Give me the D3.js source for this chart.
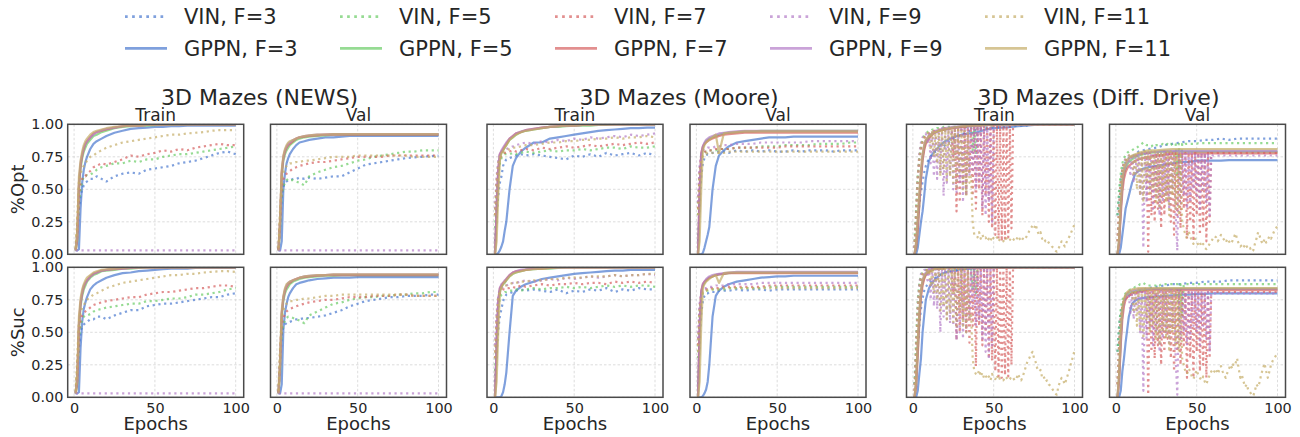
<!DOCTYPE html>
<html><head><meta charset="utf-8">
<script src="https://cdn.jsdelivr.net/npm/d3@7"></script>
<style>
body{margin:0;background:#fff}
text{font-family:"DejaVu Sans",sans-serif;fill:#262626}
</style>
</head><body>
<svg id="chart" width="1300" height="437"></svg>
<script>
// ---------------- categories / ticks ----------------
const epochsSparse = [1,2,3,4,5,6,7,8, 10,12,14,17,20,25,30, 35,40,45,50,55,60,65,70,75,80,85,90,95,100];
const epochsFull = d3.range(1, 101);
const fValues = [3,5,7,9,11];
const modelNames = ["VIN","GPPN"];
const groupTitles = ["3D Mazes (NEWS)","3D Mazes (Moore)","3D Mazes (Diff. Drive)"];
const splitTitles = ["Train","Val"];
const metricLabels = ["%Opt","%Suc"];
const xLabel = "Epochs";
const yTickValues = [0,0.25,0.5,0.75,1];
const xTickValues = [0,50,100];

// ---------------- NEWS ----------------
const newsTrainOptVIN = [
 [0.03,0.15,0.35,0.45,0.5,0.53,0.55,0.56, 0.58,0.58,0.6,0.58,0.56,0.6,0.62, 0.63,0.62,0.65,0.66,0.67,0.68,0.7,0.71,0.72,0.74,0.76,0.78,0.79,0.77],
 [0.04,0.2,0.4,0.5,0.56,0.6,0.6,0.61, 0.61,0.63,0.65,0.67,0.68,0.7,0.7, 0.72,0.71,0.73,0.73,0.75,0.76,0.77,0.77,0.78,0.79,0.8,0.81,0.82,0.83],
 [0.04,0.2,0.45,0.55,0.58,0.6,0.6,0.62, 0.64,0.67,0.68,0.7,0.69,0.71,0.73, 0.76,0.75,0.77,0.78,0.8,0.79,0.81,0.8,0.82,0.83,0.84,0.85,0.84,0.84],
 [0.03,0.03,0.03,0.03,0.03,0.03,0.03,0.03, 0.03,0.03,0.03,0.03,0.03,0.03,0.03, 0.03,0.03,0.03,0.03,0.03,0.03,0.03,0.03,0.03,0.03,0.03,0.03,0.03,0.03],
 [0.05,0.3,0.55,0.62,0.66,0.68,0.7,0.72, 0.75,0.76,0.78,0.8,0.82,0.84,0.86, 0.87,0.88,0.89,0.9,0.91,0.92,0.92,0.93,0.935,0.94,0.95,0.955,0.955,0.955]
];
const newsTrainOptGPPN = [
 [0.03,0.03,0.04,0.35,0.55,0.65,0.71,0.75, 0.81,0.85,0.87,0.89,0.91,0.935,0.95, 0.965,0.97,0.975,0.98,0.98,0.985,0.985,0.99,0.99,0.99,0.99,0.99,0.99,0.99],
 [0.03,0.1,0.5,0.66,0.74,0.79,0.82,0.85, 0.88,0.91,0.92,0.94,0.95,0.97,0.98, 0.985,0.99,0.99,0.993,0.995,0.995,0.997,0.997,1,1,1,1,1,1],
 [0.03,0.12,0.52,0.68,0.76,0.81,0.85,0.87, 0.9,0.93,0.94,0.95,0.96,0.975,0.985, 0.99,0.99,0.995,0.995,0.997,1,1,1,1,1,1,1,1,1],
 [0.03,0.15,0.55,0.7,0.77,0.82,0.85,0.87, 0.9,0.92,0.94,0.955,0.965,0.975,0.985, 0.99,0.99,0.995,0.995,0.997,1,1,1,1,1,1,1,1,1],
 [0.03,0.2,0.6,0.72,0.79,0.84,0.87,0.89, 0.92,0.94,0.95,0.96,0.97,0.98,0.985, 0.99,0.99,0.995,0.995,0.997,1,1,1,1,1,1,1,1,1]
];
const newsTrainSucVIN = [
 [0.03,0.15,0.38,0.5,0.55,0.56,0.57,0.58, 0.6,0.6,0.62,0.62,0.6,0.63,0.65, 0.67,0.67,0.7,0.71,0.72,0.72,0.73,0.74,0.75,0.76,0.77,0.77,0.79,0.8],
 [0.04,0.22,0.45,0.55,0.6,0.62,0.63,0.63, 0.64,0.66,0.67,0.68,0.69,0.7,0.71, 0.72,0.72,0.74,0.74,0.75,0.76,0.76,0.77,0.79,0.79,0.8,0.81,0.83,0.84],
 [0.04,0.22,0.5,0.6,0.63,0.65,0.66,0.67, 0.69,0.71,0.72,0.73,0.74,0.75,0.76, 0.77,0.77,0.79,0.8,0.81,0.81,0.82,0.83,0.84,0.84,0.85,0.86,0.86,0.85],
 [0.03,0.03,0.03,0.03,0.03,0.03,0.03,0.03, 0.03,0.03,0.03,0.03,0.03,0.03,0.03, 0.03,0.03,0.03,0.03,0.03,0.03,0.03,0.03,0.03,0.03,0.03,0.03,0.03,0.03],
 [0.05,0.32,0.58,0.65,0.69,0.71,0.73,0.75, 0.77,0.79,0.8,0.82,0.84,0.86,0.88, 0.89,0.9,0.91,0.92,0.93,0.94,0.94,0.95,0.95,0.96,0.965,0.97,0.97,0.965]
];
const newsTrainSucGPPN = [
 [0.03,0.03,0.04,0.38,0.58,0.68,0.73,0.77, 0.83,0.86,0.88,0.9,0.92,0.94,0.955, 0.96,0.97,0.975,0.98,0.985,0.99,0.99,0.99,0.995,0.995,0.995,0.995,0.995,0.995],
 [0.03,0.1,0.52,0.7,0.78,0.83,0.86,0.89, 0.92,0.94,0.95,0.97,0.975,0.98,0.99, 0.99,0.995,1,1,1,1,1,1,1,1,1,1,1,1],
 [0.03,0.12,0.55,0.72,0.8,0.85,0.88,0.9, 0.93,0.95,0.96,0.975,0.98,0.985,0.99, 0.995,1,1,1,1,1,1,1,1,1,1,1,1,1],
 [0.03,0.15,0.57,0.73,0.81,0.86,0.88,0.9, 0.93,0.95,0.96,0.975,0.98,0.99,0.99, 0.995,1,1,1,1,1,1,1,1,1,1,1,1,1],
 [0.03,0.2,0.62,0.76,0.83,0.87,0.9,0.92, 0.94,0.96,0.97,0.98,0.985,0.99,0.995, 1,1,1,1,1,1,1,1,1,1,1,1,1,1]
];
const newsValOptVIN = [
 [0.03,0.2,0.45,0.52,0.55,0.56,0.57,0.57, 0.58,0.58,0.59,0.58,0.59,0.58,0.59, 0.6,0.6,0.63,0.66,0.69,0.7,0.71,0.72,0.73,0.74,0.745,0.75,0.755,0.76],
 [0.04,0.25,0.45,0.52,0.55,0.57,0.58,0.57, 0.57,0.56,0.55,0.53,0.6,0.63,0.65, 0.67,0.68,0.7,0.72,0.73,0.75,0.76,0.77,0.78,0.79,0.79,0.8,0.8,0.8],
 [0.04,0.3,0.52,0.58,0.6,0.62,0.63,0.64, 0.66,0.67,0.68,0.69,0.7,0.71,0.71, 0.72,0.73,0.74,0.75,0.75,0.75,0.75,0.76,0.76,0.76,0.76,0.76,0.76,0.76],
 [0.03,0.03,0.03,0.03,0.03,0.03,0.03,0.03, 0.03,0.03,0.03,0.03,0.03,0.03,0.03, 0.03,0.03,0.03,0.03,0.03,0.03,0.03,0.03,0.03,0.03,0.03,0.03,0.03,0.03],
 [0.05,0.35,0.58,0.63,0.66,0.68,0.69,0.7, 0.7,0.71,0.71,0.72,0.72,0.73,0.74, 0.75,0.75,0.75,0.76,0.76,0.76,0.76,0.76,0.76,0.76,0.75,0.75,0.75,0.75]
];
const newsValOptGPPN = [
 [0.03,0.03,0.1,0.5,0.62,0.7,0.74,0.77, 0.81,0.84,0.86,0.87,0.88,0.89,0.9, 0.9,0.905,0.91,0.91,0.91,0.91,0.91,0.91,0.91,0.91,0.91,0.91,0.91,0.91],
 [0.03,0.2,0.6,0.72,0.77,0.8,0.82,0.84, 0.86,0.88,0.89,0.9,0.905,0.91,0.915, 0.92,0.92,0.92,0.92,0.92,0.92,0.92,0.92,0.92,0.92,0.92,0.92,0.92,0.92],
 [0.03,0.25,0.62,0.74,0.79,0.82,0.84,0.85, 0.87,0.89,0.9,0.905,0.91,0.915,0.92, 0.92,0.92,0.92,0.92,0.92,0.92,0.92,0.92,0.92,0.92,0.92,0.92,0.92,0.92],
 [0.03,0.25,0.63,0.75,0.8,0.83,0.85,0.86, 0.88,0.89,0.9,0.91,0.915,0.92,0.92, 0.925,0.925,0.925,0.925,0.925,0.925,0.925,0.925,0.925,0.925,0.925,0.925,0.925,0.925],
 [0.03,0.3,0.65,0.76,0.81,0.84,0.86,0.87, 0.88,0.89,0.9,0.91,0.915,0.92,0.92, 0.925,0.925,0.925,0.925,0.925,0.925,0.925,0.925,0.925,0.925,0.925,0.925,0.925,0.925]
];
const newsValSucVIN = [
 [0.03,0.25,0.48,0.54,0.56,0.57,0.58,0.58, 0.59,0.6,0.6,0.61,0.61,0.62,0.63, 0.65,0.67,0.7,0.72,0.74,0.75,0.76,0.77,0.77,0.78,0.78,0.78,0.79,0.79],
 [0.04,0.3,0.5,0.56,0.59,0.61,0.62,0.62, 0.61,0.6,0.59,0.57,0.63,0.66,0.69, 0.72,0.73,0.75,0.76,0.77,0.77,0.78,0.78,0.79,0.79,0.8,0.8,0.81,0.81],
 [0.04,0.35,0.56,0.61,0.64,0.66,0.67,0.68, 0.69,0.7,0.71,0.72,0.73,0.74,0.75, 0.75,0.76,0.77,0.77,0.77,0.78,0.78,0.78,0.79,0.79,0.78,0.78,0.78,0.78],
 [0.03,0.03,0.03,0.03,0.03,0.03,0.03,0.03, 0.03,0.03,0.03,0.03,0.03,0.03,0.03, 0.03,0.03,0.03,0.03,0.03,0.03,0.03,0.03,0.03,0.03,0.03,0.03,0.03,0.03],
 [0.05,0.4,0.62,0.67,0.7,0.72,0.73,0.74, 0.74,0.75,0.75,0.76,0.76,0.77,0.78, 0.78,0.79,0.79,0.79,0.79,0.79,0.79,0.79,0.79,0.79,0.78,0.78,0.78,0.78]
];
const newsValSucGPPN = [
 [0.03,0.03,0.1,0.52,0.65,0.72,0.77,0.8, 0.84,0.87,0.88,0.89,0.9,0.91,0.915, 0.92,0.92,0.92,0.925,0.925,0.925,0.925,0.925,0.925,0.925,0.925,0.925,0.925,0.925],
 [0.03,0.2,0.62,0.74,0.8,0.83,0.85,0.87, 0.89,0.9,0.91,0.92,0.925,0.93,0.935, 0.935,0.94,0.94,0.94,0.94,0.94,0.94,0.94,0.94,0.94,0.94,0.94,0.94,0.94],
 [0.03,0.25,0.64,0.76,0.82,0.85,0.87,0.88, 0.9,0.91,0.92,0.925,0.93,0.935,0.94, 0.94,0.94,0.94,0.94,0.94,0.94,0.94,0.94,0.94,0.94,0.94,0.94,0.94,0.94],
 [0.03,0.25,0.65,0.77,0.83,0.86,0.88,0.89, 0.9,0.91,0.92,0.93,0.935,0.94,0.94, 0.945,0.945,0.945,0.945,0.945,0.945,0.945,0.945,0.945,0.945,0.945,0.945,0.945,0.945],
 [0.03,0.3,0.67,0.78,0.84,0.87,0.88,0.89, 0.9,0.91,0.92,0.93,0.935,0.94,0.94, 0.945,0.945,0.945,0.945,0.945,0.945,0.945,0.945,0.945,0.945,0.945,0.945,0.945,0.945]
];

// ---------------- Moore ----------------
const mooreTrainOptVIN = [
 [0.1,0.3,0.45,0.55,0.6,0.68,0.71,0.73, 0.74,0.75,0.76,0.77,0.76,0.77,0.76, 0.75,0.74,0.73,0.76,0.75,0.77,0.75,0.78,0.76,0.77,0.78,0.76,0.78,0.76],
 [0.2,0.45,0.6,0.7,0.74,0.76,0.77,0.77, 0.77,0.78,0.77,0.78,0.79,0.78,0.79, 0.8,0.79,0.8,0.8,0.81,0.8,0.81,0.82,0.82,0.81,0.83,0.82,0.82,0.83],
 [0.3,0.55,0.68,0.74,0.76,0.77,0.78,0.78, 0.79,0.8,0.79,0.8,0.81,0.8,0.82, 0.81,0.82,0.83,0.82,0.83,0.84,0.83,0.84,0.85,0.84,0.85,0.86,0.85,0.86],
 [0.35,0.6,0.72,0.77,0.79,0.8,0.8,0.81, 0.82,0.83,0.84,0.85,0.86,0.85,0.87, 0.86,0.88,0.87,0.89,0.88,0.9,0.89,0.9,0.91,0.9,0.92,0.91,0.92,0.93],
 [0.3,0.55,0.7,0.75,0.77,0.78,0.79,0.8, 0.81,0.82,0.82,0.83,0.84,0.84,0.85, 0.86,0.86,0.87,0.87,0.88,0.88,0.89,0.89,0.9,0.89,0.9,0.9,0.91,0.9]
];
const mooreTrainOptGPPN = [
 [0,0,0.01,0.03,0.06,0.1,0.18,0.25, 0.5,0.68,0.74,0.79,0.82,0.86,0.86, 0.89,0.9,0.91,0.92,0.93,0.94,0.95,0.955,0.96,0.965,0.97,0.97,0.975,0.975],
 [0,0.3,0.6,0.75,0.78,0.8,0.82,0.84, 0.88,0.9,0.92,0.94,0.95,0.96,0.97, 0.98,0.98,0.985,0.99,0.99,0.99,0.995,0.995,1,1,1,1,1,1],
 [0,0.35,0.65,0.77,0.79,0.81,0.83,0.85, 0.89,0.91,0.93,0.94,0.955,0.965,0.975, 0.98,0.985,0.99,0.99,0.995,0.995,1,1,1,1,1,1,1,1],
 [0,0.35,0.66,0.77,0.8,0.82,0.84,0.86, 0.89,0.91,0.93,0.945,0.955,0.965,0.975, 0.98,0.985,0.99,0.99,0.995,0.995,1,1,1,1,1,1,1,1],
 [0,0.1,0.45,0.72,0.78,0.8,0.82,0.84, 0.88,0.9,0.92,0.94,0.95,0.96,0.97, 0.98,0.985,0.99,0.99,0.995,0.995,1,1,1,1,1,1,1,1]
];
const mooreTrainSucVIN = [
 [0.12,0.35,0.52,0.62,0.68,0.74,0.77,0.79, 0.8,0.81,0.82,0.83,0.82,0.83,0.82, 0.81,0.83,0.8,0.82,0.81,0.83,0.82,0.84,0.81,0.83,0.82,0.84,0.83,0.83],
 [0.2,0.5,0.68,0.76,0.79,0.8,0.81,0.81, 0.82,0.82,0.83,0.82,0.83,0.84,0.83, 0.84,0.84,0.85,0.84,0.85,0.84,0.85,0.86,0.85,0.86,0.85,0.86,0.86,0.85],
 [0.3,0.6,0.74,0.8,0.82,0.83,0.83,0.84, 0.84,0.85,0.84,0.86,0.85,0.86,0.87, 0.86,0.87,0.87,0.88,0.87,0.88,0.88,0.87,0.89,0.88,0.89,0.88,0.89,0.88],
 [0.4,0.65,0.78,0.83,0.84,0.85,0.85,0.86, 0.87,0.88,0.88,0.89,0.9,0.89,0.9, 0.91,0.9,0.92,0.91,0.92,0.93,0.92,0.93,0.94,0.93,0.94,0.94,0.95,0.94],
 [0.3,0.6,0.77,0.82,0.84,0.85,0.86,0.86, 0.87,0.88,0.88,0.89,0.89,0.9,0.9, 0.91,0.91,0.92,0.92,0.92,0.93,0.93,0.93,0.94,0.93,0.94,0.94,0.95,0.95]
];
const mooreTrainSucGPPN = [
 [0,0,0,0,0.01,0.04,0.1,0.19, 0.5,0.78,0.82,0.85,0.87,0.89,0.91, 0.92,0.93,0.94,0.95,0.955,0.96,0.965,0.97,0.975,0.975,0.98,0.98,0.98,0.98],
 [0,0.35,0.7,0.82,0.85,0.87,0.88,0.9, 0.93,0.95,0.96,0.97,0.98,0.985,0.99, 0.99,0.995,1,1,1,1,1,1,1,1,1,1,1,1],
 [0,0.4,0.74,0.84,0.86,0.88,0.89,0.91, 0.94,0.96,0.97,0.975,0.98,0.99,0.99, 0.995,1,1,1,1,1,1,1,1,1,1,1,1,1],
 [0,0.4,0.75,0.84,0.87,0.88,0.9,0.91, 0.94,0.96,0.97,0.98,0.985,0.99,0.995, 1,1,1,1,1,1,1,1,1,1,1,1,1,1],
 [0,0.12,0.5,0.8,0.85,0.87,0.89,0.9, 0.93,0.95,0.96,0.97,0.98,0.985,0.99, 0.995,1,1,1,1,1,1,1,1,1,1,1,1,1]
];
const mooreValOptVIN = [
 [0.1,0.4,0.6,0.7,0.74,0.76,0.77,0.77, 0.78,0.78,0.79,0.79,0.78,0.8,0.79, 0.8,0.79,0.8,0.79,0.79,0.8,0.79,0.8,0.8,0.8,0.79,0.8,0.8,0.8],
 [0.3,0.6,0.72,0.77,0.78,0.79,0.79,0.8, 0.8,0.8,0.81,0.81,0.81,0.82,0.82, 0.82,0.83,0.83,0.83,0.84,0.84,0.84,0.84,0.85,0.85,0.85,0.85,0.86,0.86],
 [0.35,0.65,0.75,0.78,0.79,0.79,0.8,0.8, 0.8,0.81,0.81,0.81,0.81,0.82,0.82, 0.82,0.82,0.82,0.82,0.83,0.83,0.83,0.83,0.83,0.83,0.83,0.83,0.83,0.83],
 [0.4,0.68,0.77,0.8,0.81,0.81,0.82,0.82, 0.82,0.83,0.83,0.84,0.84,0.85,0.85, 0.85,0.86,0.86,0.86,0.86,0.86,0.86,0.87,0.87,0.87,0.87,0.87,0.87,0.87],
 [0.3,0.6,0.72,0.76,0.77,0.77,0.78,0.78, 0.78,0.78,0.78,0.78,0.79,0.79,0.79, 0.79,0.79,0.79,0.79,0.79,0.79,0.79,0.79,0.79,0.79,0.79,0.79,0.79,0.79]
];
const mooreValOptGPPN = [
 [0,0,0,0.01,0.05,0.1,0.15,0.21, 0.5,0.68,0.76,0.8,0.83,0.86,0.87, 0.88,0.89,0.9,0.9,0.9,0.905,0.905,0.905,0.905,0.905,0.905,0.905,0.905,0.905],
 [0,0.4,0.75,0.82,0.85,0.87,0.88,0.89, 0.9,0.91,0.92,0.93,0.935,0.94,0.945, 0.945,0.95,0.95,0.95,0.95,0.95,0.95,0.95,0.95,0.95,0.95,0.95,0.95,0.95],
 [0,0.5,0.78,0.83,0.85,0.86,0.87,0.88, 0.89,0.9,0.91,0.92,0.925,0.93,0.935, 0.935,0.935,0.935,0.935,0.935,0.935,0.935,0.935,0.935,0.935,0.935,0.935,0.935,0.935],
 [0,0.45,0.77,0.83,0.86,0.88,0.89,0.9, 0.91,0.92,0.93,0.935,0.94,0.945,0.95, 0.95,0.95,0.95,0.95,0.95,0.95,0.95,0.95,0.95,0.95,0.95,0.95,0.95,0.95],
 [0,0.1,0.5,0.8,0.84,0.86,0.87,0.88, 0.9,0.92,0.78,0.93,0.935,0.94,0.945, 0.945,0.945,0.945,0.945,0.945,0.945,0.945,0.945,0.945,0.945,0.945,0.945,0.945,0.945]
];
const mooreValSucVIN = [
 [0.1,0.45,0.65,0.74,0.78,0.8,0.8,0.81, 0.81,0.81,0.82,0.82,0.82,0.83,0.82, 0.83,0.83,0.82,0.83,0.83,0.83,0.83,0.83,0.83,0.83,0.83,0.83,0.83,0.83],
 [0.3,0.65,0.76,0.8,0.81,0.82,0.82,0.82, 0.83,0.83,0.83,0.83,0.84,0.84,0.84, 0.84,0.84,0.85,0.85,0.85,0.85,0.85,0.85,0.85,0.85,0.85,0.85,0.85,0.85],
 [0.4,0.7,0.79,0.82,0.83,0.83,0.83,0.84, 0.84,0.84,0.84,0.85,0.85,0.85,0.85, 0.85,0.85,0.86,0.86,0.86,0.86,0.86,0.86,0.86,0.86,0.86,0.86,0.86,0.86],
 [0.45,0.72,0.8,0.83,0.84,0.84,0.85,0.85, 0.85,0.86,0.86,0.86,0.87,0.87,0.87, 0.87,0.88,0.88,0.88,0.88,0.88,0.88,0.88,0.88,0.88,0.88,0.88,0.88,0.88],
 [0.35,0.66,0.77,0.81,0.82,0.82,0.83,0.83, 0.83,0.83,0.83,0.84,0.84,0.84,0.84, 0.84,0.84,0.84,0.84,0.84,0.84,0.84,0.84,0.84,0.84,0.84,0.84,0.84,0.84]
];
const mooreValSucGPPN = [
 [0,0,0,0.01,0.03,0.06,0.12,0.25, 0.62,0.78,0.82,0.85,0.87,0.89,0.9, 0.91,0.92,0.925,0.93,0.93,0.935,0.935,0.935,0.935,0.935,0.935,0.935,0.935,0.935],
 [0,0.45,0.8,0.86,0.88,0.9,0.91,0.92, 0.93,0.94,0.945,0.95,0.955,0.96,0.96, 0.96,0.96,0.96,0.96,0.96,0.96,0.96,0.96,0.96,0.96,0.96,0.96,0.96,0.96],
 [0,0.55,0.82,0.87,0.89,0.9,0.91,0.92, 0.93,0.94,0.945,0.95,0.955,0.955,0.955, 0.955,0.955,0.955,0.955,0.955,0.955,0.955,0.955,0.955,0.955,0.955,0.955,0.955,0.955],
 [0,0.5,0.81,0.87,0.89,0.91,0.92,0.93, 0.94,0.945,0.95,0.955,0.96,0.965,0.965, 0.965,0.965,0.965,0.965,0.965,0.965,0.965,0.965,0.965,0.965,0.965,0.965,0.965,0.965],
 [0,0.12,0.55,0.84,0.87,0.89,0.9,0.91, 0.93,0.94,0.88,0.955,0.96,0.96,0.96, 0.96,0.96,0.96,0.96,0.96,0.96,0.96,0.96,0.96,0.96,0.96,0.96,0.96,0.96]
];

// ---------------- Diff. Drive ----------------
const diffTrainOptVIN = [
 [0.05,0.15,0.28,0.38,0.48,0.56,0.63,0.68, 0.74,0.77,0.79,0.81,0.84,0.89,0.92, 0.95,0.96,0.97,0.975,0.98,0.98,0.99,0.99,1,1,1,1,1,1],
 [0.1,0.35,0.6,0.74,0.83,0.88,0.91,0.93,0.94,0.95,
  0.95,0.96,0.96,0.96,0.97,0.97,0.97,0.97,0.98,0.98,
  0.98,0.98,0.98,0.98,0.98,0.98,0.98,0.98,0.98,0.98,
  0.98,0.98,0.98,0.98,0.98,0.98,0.8,0.99,0.78,0.99,
  0.99,0.99,0.99,0.99,0.99,0.99,0.99,0.99,0.99,0.99,
  1,1,1,1,1,1,1,1,1,1, 1,1,1,1,1,1,1,1,1,1, 1,1,1,1,1,1,1,1,1,1,
  1,1,1,1,1,1,1,1,1,1, 1,1,1,1,1,1,1,1,1,1],
 [0.05,0.3,0.55,0.72,0.8,0.86,0.89,0.91,0.92,0.93,
  0.94,0.94,0.95,0.95,0.96,0.96,0.96,0.97,0.97,0.97,
  0.97,0.97,0.97,0.97,0.75,0.98,0.33,0.98,0.4,0.98,
  0.55,0.98,0.45,0.98,0.62,0.98,0.45,0.99,0.35,0.99,
  0.5,0.99,0.3,0.99,0.45,0.99,0.25,0.99,0.2,0.99,
  0.15,0.99,0.12,0.99,0.1,0.99,0.12,0.99,0.13,0.99,
  0.2,1,1,1,1,1,1,1,1,1, 1,1,1,1,1,1,1,1,1,1,
  1,1,1,1,1,1,1,1,1,1, 1,1,1,1,1,1,1,1,1,1],
 [0.05,0.3,0.6,0.78,0.86,0.9,0.92,0.93,0.85,0.94,
  0.7,0.95,0.6,0.96,0.58,0.96,0.62,0.97,0.45,0.97,
  0.55,0.97,0.62,0.98,0.5,0.98,0.48,0.98,0.55,0.98,
  0.4,0.98,0.45,0.98,0.6,0.99,0.65,0.99,0.5,0.99,
  0.55,0.99,0.35,0.99,0.3,0.99,0.4,0.99,0.25,0.99,
  1,1,1,1,1,1,1,1,1,1, 1,1,1,1,1,1,1,1,1,1, 1,1,1,1,1,1,1,1,1,1,
  1,1,1,1,1,1,1,1,1,1, 1,1,1,1,1,1,1,1,1,1],
 [0.05,0.3,0.6,0.75,0.83,0.88,0.9,0.92,0.93,0.94,
  0.8,0.95,0.75,0.95,0.7,0.96,0.6,0.96,0.65,0.96,
  0.55,0.96,0.6,0.96,0.55,0.96,0.5,0.96,0.62,0.95,
  0.5,0.95,0.45,0.94,0.55,0.6,0.25,0.15,0.14,0.13,
  0.17,0.12,0.15,0.12,0.13,0.1,0.12,0.1,0.14,0.12,
  0.11,0.13,0.1,0.12,0.11,0.1,0.13,0.12,0.1,0.11,
  0.13,0.12,0.1,0.11,0.14,0.12,0.1,0.12,0.11,0.13,
  0.15,0.18,0.2,0.22,0.2,0.23,0.18,0.15,0.17,0.12,
  0.13,0.1,0.11,0.09,0.08,0.06,0.05,0.03,0.02,0.04,
  0.07,0.1,0.08,0.06,0.09,0.12,0.14,0.17,0.2,0.23]
];
const diffTrainOptGPPN = [
 [0,0,0.05,0.15,0.25,0.33,0.45,0.58, 0.72,0.77,0.8,0.84,0.87,0.9,0.92, 0.93,0.94,0.96,0.97,0.975,0.978,0.985,0.99,0.995,1,1,1,1,1],
 [0,0.05,0.2,0.4,0.6,0.74,0.82,0.87, 0.9,0.93,0.94,0.955,0.96,0.975,0.98, 0.985,0.99,0.995,0.995,1,1,1,1,1,1,1,1,1,1],
 [0,0.05,0.18,0.38,0.57,0.72,0.8,0.85, 0.89,0.92,0.94,0.95,0.96,0.97,0.98, 0.985,0.99,0.995,0.995,1,1,1,1,1,1,1,1,1,1],
 [0,0.08,0.25,0.45,0.63,0.76,0.84,0.88, 0.91,0.93,0.95,0.96,0.97,0.98,0.985, 0.99,0.99,0.995,1,1,1,1,1,1,1,1,1,1,1],
 [0,0.1,0.28,0.48,0.65,0.77,0.84,0.88, 0.91,0.93,0.94,0.955,0.965,0.975,0.985, 0.99,0.99,0.995,1,1,1,1,1,1,1,1,1,1,1]
];
const diffTrainSucVIN = [
 [0.1,0.25,0.4,0.55,0.68,0.76,0.82,0.85, 0.88,0.9,0.92,0.94,0.96,0.97,0.98, 0.99,0.99,1,1,1,1,1,1,1,1,1,1,1,1],
 [0.1,0.45,0.75,0.88,0.94,0.96,0.97,0.98,0.98,0.99,
  0.99,0.99,0.99,0.99,0.99,0.99,0.99,0.99,0.99,0.99,
  0.99,0.99,0.99,0.99,0.99,0.99,0.99,0.99,0.99,0.99,
  0.99,0.99,0.99,0.99,0.99,0.99,0.82,1,0.8,1,
  1,1,1,1,1,1,1,1,1,1, 1,1,1,1,1,1,1,1,1,1, 1,1,1,1,1,1,1,1,1,1,
  1,1,1,1,1,1,1,1,1,1, 1,1,1,1,1,1,1,1,1,1, 1,1,1,1,1,1,1,1,1,1],
 [0.05,0.35,0.65,0.82,0.9,0.94,0.96,0.97,0.98,0.98,
  0.99,0.99,0.99,0.99,0.99,0.99,0.99,0.99,0.99,0.99,
  0.99,0.99,0.99,0.99,0.8,1,0.44,1,0.5,1,
  0.6,1,0.5,1,0.42,1,0.55,1,0.24,1,
  0.55,1,0.4,1,0.5,1,0.3,1,0.28,1,
  0.2,1,0.16,1,0.15,1,0.17,1,0.16,1,
  0.25,1,1,1,1,1,1,1,1,1, 1,1,1,1,1,1,1,1,1,1,
  1,1,1,1,1,1,1,1,1,1, 1,1,1,1,1,1,1,1,1,1],
 [0.05,0.35,0.7,0.88,0.95,0.97,0.98,0.98,0.9,0.99,
  0.75,0.99,0.7,0.99,0.68,0.99,0.5,0.99,0.62,0.99,
  0.6,0.99,0.57,0.99,0.55,0.99,0.44,0.99,0.5,1,
  0.45,1,0.5,1,0.6,1,0.7,1,0.55,1,
  0.6,1,0.45,1,0.35,1,0.29,1,0.4,1,
  1,1,1,1,1,1,1,1,1,1, 1,1,1,1,1,1,1,1,1,1, 1,1,1,1,1,1,1,1,1,1,
  1,1,1,1,1,1,1,1,1,1, 1,1,1,1,1,1,1,1,1,1],
 [0.05,0.35,0.68,0.85,0.92,0.95,0.96,0.97,0.98,0.98,
  0.85,0.99,0.8,0.99,0.75,0.99,0.65,0.99,0.7,0.99,
  0.6,0.99,0.65,0.99,0.58,0.99,0.55,0.99,0.67,0.99,
  0.55,0.99,0.5,0.98,0.6,0.65,0.3,0.2,0.18,0.17,
  0.21,0.16,0.19,0.15,0.17,0.14,0.16,0.13,0.18,0.15,
  0.14,0.17,0.13,0.15,0.14,0.13,0.16,0.15,0.13,0.14,
  0.16,0.15,0.13,0.14,0.18,0.15,0.13,0.16,0.2,0.24,
  0.28,0.3,0.33,0.35,0.3,0.27,0.22,0.2,0.21,0.15,
  0.16,0.12,0.13,0.1,0.09,0.07,0.05,0.03,0.02,0.08,
  0.12,0.15,0.13,0.1,0.14,0.18,0.22,0.27,0.31,0.36]
];
const diffTrainSucGPPN = [
 [0,0,0.05,0.18,0.3,0.5,0.63,0.75, 0.84,0.88,0.91,0.945,0.96,0.975,0.985, 0.99,0.995,1,1,1,1,1,1,1,1,1,1,1,1],
 [0,0.1,0.35,0.6,0.8,0.88,0.92,0.95, 0.97,0.98,0.99,0.99,1,1,1, 1,1,1,1,1,1,1,1,1,1,1,1,1,1],
 [0,0.08,0.32,0.58,0.77,0.86,0.91,0.94, 0.96,0.98,0.99,0.99,1,1,1, 1,1,1,1,1,1,1,1,1,1,1,1,1,1],
 [0,0.12,0.4,0.65,0.82,0.9,0.94,0.96, 0.98,0.99,0.99,1,1,1,1, 1,1,1,1,1,1,1,1,1,1,1,1,1,1],
 [0,0.14,0.42,0.66,0.82,0.9,0.93,0.95, 0.97,0.98,0.99,1,1,1,1, 1,1,1,1,1,1,1,1,1,1,1,1,1,1]
];
const diffValOptVIN = [
 [0.3,0.45,0.55,0.63,0.68,0.71,0.73,0.74, 0.75,0.77,0.79,0.8,0.81,0.82,0.84, 0.85,0.86,0.87,0.87,0.88,0.88,0.89,0.88,0.89,0.89,0.89,0.89,0.89,0.89],
 [0.3,0.5,0.62,0.7,0.74,0.76,0.78,0.79,0.8,0.8,
  0.81,0.82,0.82,0.83,0.84,0.85,0.86,0.85,0.84,0.84,
  0.83,0.83,0.84,0.83,0.84,0.84,0.84,0.84,0.85,0.84,
  0.84,0.85,0.84,0.85,0.84,0.85,0.85,0.6,0.85,0.58,
  0.85,0.84,0.85,0.85,0.85,0.85,0.85,0.85,0.85,0.85,
  0.855,0.855,0.855,0.855,0.855,0.855,0.855,0.855,0.855,0.855,
  0.855,0.855,0.855,0.855,0.855,0.855,0.855,0.855,0.855,0.855,
  0.855,0.855,0.855,0.855,0.855,0.855,0.855,0.855,0.855,0.855,
  0.855,0.855,0.855,0.855,0.855,0.855,0.855,0.855,0.855,0.855,
  0.855,0.855,0.855,0.855,0.855,0.855,0.855,0.855,0.855,0.855],
 [0.1,0.35,0.55,0.65,0.7,0.72,0.73,0.74,0.75,0.75,
  0.76,0.76,0.76,0.77,0.77,0.77,0.77,0.78,0.78,0.02,
  0.78,0.3,0.78,0.25,0.78,0.35,0.78,0.2,0.78,0.3,
  0.78,0.4,0.78,0.25,0.78,0.15,0.78,0.3,0.78,0.2,
  0.78,0.35,0.78,0.12,0.78,0.25,0.78,0.1,0.78,0.3,
  0.78,0.15,0.78,0.2,0.78,0.1,0.78,0.25,0.78,0.78,
  0.78,0.78,0.78,0.78,0.78,0.78,0.78,0.78,0.78,0.78,
  0.78,0.78,0.78,0.78,0.78,0.78,0.78,0.78,0.78,0.78,
  0.78,0.78,0.78,0.78,0.78,0.78,0.78,0.78,0.78,0.78,
  0.78,0.78,0.78,0.78,0.78,0.78,0.78,0.78,0.78,0.78],
 [0.1,0.35,0.55,0.66,0.71,0.74,0.75,0.76,0.6,0.77,
  0.55,0.77,0.62,0.78,0.45,0.78,0.05,0.78,0.4,0.78,
  0.5,0.78,0.35,0.78,0.45,0.79,0.3,0.79,0.4,0.79,
  0.45,0.79,0.35,0.79,0.5,0.79,0.3,0.03,0.79,0.4,
  0.79,0.45,0.78,0.35,0.78,0.4,0.78,0.5,0.78,0.45,
  0.78,0.35,0.78,0.5,0.78,0.4,0.78,0.3,0.77,0.76,
  0.76,0.76,0.76,0.76,0.76,0.76,0.76,0.76,0.76,0.76,
  0.76,0.76,0.76,0.76,0.76,0.76,0.76,0.76,0.76,0.76,
  0.76,0.76,0.76,0.76,0.76,0.76,0.76,0.76,0.76,0.76,
  0.76,0.76,0.76,0.76,0.76,0.76,0.76,0.76,0.76,0.76],
 [0.1,0.35,0.55,0.65,0.7,0.73,0.75,0.76,0.77,0.77,
  0.6,0.78,0.5,0.78,0.45,0.78,0.4,0.79,0.55,0.79,
  0.45,0.79,0.5,0.79,0.4,0.79,0.35,0.79,0.45,0.79,
  0.4,0.79,0.3,0.79,0.45,0.79,0.35,0.78,0.3,0.78,
  0.25,0.2,0.15,0.12,0.18,0.14,0.1,0.08,0.12,0.1,
  0.07,0.09,0.06,0.08,0.05,0.04,0.06,0.08,0.1,0.12,
  0.14,0.13,0.1,0.12,0.15,0.13,0.11,0.09,0.12,0.1,
  0.08,0.1,0.13,0.16,0.12,0.08,0.06,0.07,0.05,0.08,
  0.06,0.04,0.05,0.02,0.03,0.08,0.12,0.17,0.14,0.1,
  0.08,0.12,0.09,0.11,0.14,0.12,0.15,0.18,0.2,0.22]
];
const diffValOptGPPN = [
 [0,0,0.05,0.15,0.25,0.35,0.4,0.45, 0.55,0.62,0.64,0.66,0.67,0.68,0.69, 0.7,0.71,0.71,0.72,0.72,0.72,0.72,0.725,0.725,0.725,0.725,0.725,0.725,0.725],
 [0,0.1,0.35,0.53,0.62,0.66,0.69,0.71, 0.73,0.75,0.76,0.77,0.78,0.785,0.79, 0.79,0.79,0.79,0.79,0.79,0.79,0.79,0.79,0.79,0.79,0.79,0.79,0.79,0.79],
 [0,0.08,0.3,0.48,0.58,0.63,0.66,0.68, 0.7,0.72,0.73,0.74,0.75,0.76,0.765, 0.77,0.775,0.775,0.776,0.776,0.776,0.776,0.776,0.776,0.776,0.776,0.776,0.776,0.776],
 [0,0.1,0.35,0.55,0.64,0.68,0.71,0.73, 0.75,0.76,0.77,0.78,0.785,0.79,0.795, 0.795,0.795,0.795,0.795,0.795,0.795,0.795,0.795,0.795,0.795,0.795,0.795,0.795,0.795],
 [0,0.12,0.38,0.57,0.66,0.7,0.72,0.74, 0.76,0.77,0.78,0.79,0.8,0.8,0.805, 0.81,0.81,0.81,0.81,0.81,0.81,0.81,0.81,0.81,0.81,0.81,0.81,0.81,0.81]
];
const diffValSucVIN = [
 [0.35,0.55,0.65,0.7,0.74,0.76,0.77,0.78, 0.8,0.81,0.82,0.83,0.84,0.85,0.86, 0.87,0.87,0.88,0.88,0.89,0.89,0.89,0.9,0.9,0.9,0.9,0.9,0.9,0.9],
 [0.35,0.55,0.68,0.75,0.78,0.8,0.81,0.82,0.83,0.83,
  0.84,0.85,0.85,0.86,0.87,0.87,0.88,0.87,0.86,0.86,
  0.86,0.86,0.86,0.86,0.86,0.87,0.86,0.87,0.87,0.87,
  0.87,0.87,0.87,0.87,0.87,0.87,0.87,0.87,0.6,0.87,
  0.62,0.87,0.87,0.87,0.87,0.87,0.87,0.87,0.87,0.87,
  0.87,0.87,0.87,0.87,0.87,0.87,0.87,0.87,0.87,0.87,
  0.87,0.87,0.87,0.87,0.87,0.87,0.87,0.87,0.87,0.87,
  0.87,0.87,0.87,0.87,0.87,0.87,0.87,0.87,0.87,0.87,
  0.87,0.87,0.87,0.87,0.87,0.87,0.87,0.87,0.87,0.87,
  0.87,0.87,0.87,0.87,0.87,0.87,0.87,0.87,0.87,0.87],
 [0.1,0.4,0.6,0.7,0.74,0.76,0.77,0.78,0.79,0.79,
  0.8,0.8,0.8,0.8,0.81,0.81,0.81,0.81,0.81,0.02,
  0.81,0.35,0.81,0.3,0.81,0.4,0.81,0.25,0.81,0.35,
  0.81,0.45,0.81,0.3,0.81,0.2,0.81,0.35,0.81,0.25,
  0.81,0.4,0.81,0.15,0.81,0.3,0.81,0.15,0.81,0.35,
  0.81,0.2,0.81,0.25,0.81,0.15,0.81,0.3,0.81,0.81,
  0.81,0.81,0.81,0.81,0.81,0.81,0.81,0.81,0.81,0.81,
  0.81,0.81,0.81,0.81,0.81,0.81,0.81,0.81,0.81,0.81,
  0.81,0.81,0.81,0.81,0.81,0.81,0.81,0.81,0.81,0.81,
  0.81,0.81,0.81,0.81,0.81,0.81,0.81,0.81,0.81,0.81],
 [0.1,0.4,0.6,0.7,0.75,0.77,0.78,0.79,0.65,0.8,
  0.6,0.8,0.65,0.81,0.5,0.81,0.05,0.81,0.45,0.81,
  0.55,0.81,0.4,0.81,0.5,0.81,0.35,0.82,0.45,0.82,
  0.5,0.82,0.4,0.82,0.55,0.82,0.3,0.02,0.82,0.45,
  0.82,0.5,0.81,0.4,0.81,0.45,0.81,0.55,0.81,0.5,
  0.81,0.4,0.81,0.55,0.81,0.45,0.81,0.35,0.8,0.8,
  0.8,0.8,0.8,0.8,0.8,0.8,0.8,0.8,0.8,0.8,
  0.8,0.8,0.8,0.8,0.8,0.8,0.8,0.8,0.8,0.8,
  0.8,0.8,0.8,0.8,0.8,0.8,0.8,0.8,0.8,0.8,
  0.8,0.8,0.8,0.8,0.8,0.8,0.8,0.8,0.8,0.8],
 [0.1,0.4,0.6,0.7,0.75,0.78,0.8,0.81,0.82,0.82,
  0.65,0.83,0.55,0.83,0.5,0.83,0.45,0.83,0.6,0.83,
  0.5,0.83,0.55,0.83,0.45,0.83,0.4,0.83,0.5,0.83,
  0.45,0.83,0.35,0.83,0.5,0.83,0.4,0.82,0.35,0.82,
  0.3,0.25,0.2,0.18,0.22,0.2,0.16,0.14,0.18,0.21,
  0.17,0.15,0.13,0.16,0.12,0.1,0.14,0.17,0.2,0.18,
  0.2,0.22,0.18,0.21,0.24,0.2,0.17,0.15,0.19,0.22,
  0.25,0.22,0.27,0.26,0.3,0.22,0.15,0.17,0.12,0.08,
  0.1,0.05,0.04,0.02,0.01,0.05,0.1,0.08,0.12,0.18,
  0.22,0.26,0.2,0.15,0.2,0.25,0.28,0.3,0.32,0.34]
];
const diffValSucGPPN = [
 [0,0,0.05,0.2,0.3,0.42,0.52,0.62, 0.72,0.745,0.755,0.765,0.77,0.775,0.78, 0.785,0.79,0.79,0.795,0.795,0.8,0.8,0.8,0.8,0.8,0.8,0.8,0.8,0.8],
 [0,0.15,0.45,0.65,0.74,0.78,0.79,0.8, 0.81,0.815,0.82,0.825,0.83,0.835,0.835, 0.835,0.835,0.835,0.835,0.835,0.835,0.835,0.835,0.835,0.835,0.835,0.835,0.835,0.835],
 [0,0.12,0.4,0.6,0.7,0.75,0.77,0.78, 0.8,0.805,0.81,0.815,0.82,0.825,0.825, 0.825,0.825,0.825,0.825,0.825,0.825,0.825,0.825,0.825,0.825,0.825,0.825,0.825,0.825],
 [0,0.15,0.45,0.65,0.74,0.78,0.8,0.81, 0.82,0.825,0.83,0.835,0.835,0.835,0.835, 0.835,0.835,0.835,0.835,0.835,0.835,0.835,0.835,0.835,0.835,0.835,0.835,0.835,0.835],
 [0,0.18,0.5,0.68,0.76,0.79,0.81,0.82, 0.83,0.835,0.84,0.84,0.84,0.84,0.84, 0.84,0.84,0.84,0.84,0.84,0.84,0.84,0.84,0.84,0.84,0.84,0.84,0.84,0.84]
];

// panel table (row = metric, col = group*2 + split)
const panels = [
 {row:0,col:0,vin:newsTrainOptVIN,gppn:newsTrainOptGPPN},
 {row:0,col:1,vin:newsValOptVIN,gppn:newsValOptGPPN},
 {row:0,col:2,vin:mooreTrainOptVIN,gppn:mooreTrainOptGPPN},
 {row:0,col:3,vin:mooreValOptVIN,gppn:mooreValOptGPPN},
 {row:0,col:4,vin:diffTrainOptVIN,gppn:diffTrainOptGPPN},
 {row:0,col:5,vin:diffValOptVIN,gppn:diffValOptGPPN},
 {row:1,col:0,vin:newsTrainSucVIN,gppn:newsTrainSucGPPN},
 {row:1,col:1,vin:newsValSucVIN,gppn:newsValSucGPPN},
 {row:1,col:2,vin:mooreTrainSucVIN,gppn:mooreTrainSucGPPN},
 {row:1,col:3,vin:mooreValSucVIN,gppn:mooreValSucGPPN},
 {row:1,col:4,vin:diffTrainSucVIN,gppn:diffTrainSucGPPN},
 {row:1,col:5,vin:diffValSucVIN,gppn:diffValSucGPPN}
];

// ---------------- layout / style ----------------
const colLeft = [67.7, 270.5, 487, 690, 906.5, 1109.5];
const rowTop = [124.3, 267.3];
const pw = 176, ph = 130;
const palette = ["#4878CF","#6ACC65","#D65F5F","#B47CC7","#C4AD66"];
const lineOpacity = 0.7;
const lineWidth = 2.2;
const dotDash = "2.2,3.6";

const svg = d3.select("#chart");
svg.append("rect").attr("width",1300).attr("height",437).attr("fill","#fff");

const x = d3.scaleLinear().domain([-3.95, 104.95]).range([0, pw]);
const y = d3.scaleLinear().domain([0, 1]).range([ph, 0]);

panels.forEach((p, pi) => {
  const g = svg.append("g").attr("transform", `translate(${colLeft[p.col]},${rowTop[p.row]})`);
  const clipId = "clip" + pi;
  g.append("clipPath").attr("id", clipId).append("rect").attr("width", pw).attr("height", ph);

  // grid
  g.selectAll(".gx").data(xTickValues).enter().append("line")
    .attr("x1", d => x(d)).attr("x2", d => x(d)).attr("y1", 0).attr("y2", ph)
    .attr("stroke", "#d4d4d4").attr("stroke-width", 0.8).attr("stroke-dasharray", "2.5,2");
  g.selectAll(".gy").data(yTickValues).enter().append("line")
    .attr("x1", 0).attr("x2", pw).attr("y1", d => y(d)).attr("y2", d => y(d))
    .attr("stroke", "#d4d4d4").attr("stroke-width", 0.8).attr("stroke-dasharray", "2.5,2");

  const lines = g.append("g").attr("clip-path", `url(#${clipId})`);
  fValues.forEach((f, fi) => {
    [p.vin[fi], p.gppn[fi]].forEach((vals, mi) => {
      const xs = vals.length === epochsFull.length ? epochsFull : epochsSparse;
      const line = d3.line().x((d, i) => x(xs[i])).y(d => y(d));
      lines.append("path").attr("d", line(vals))
        .attr("fill", "none")
        .attr("stroke", palette[fi])
        .attr("stroke-opacity", lineOpacity)
        .attr("stroke-width", lineWidth)
        .attr("stroke-linejoin", "round")
        .attr("stroke-dasharray", mi === 0 ? dotDash : null);
    });
  });

  g.append("rect").attr("width", pw).attr("height", ph)
    .attr("fill", "none").attr("stroke", "#4a4a4a").attr("stroke-width", 1.5);

  if (p.col === 0) {
    const ax = g.append("g").call(d3.axisLeft(y).tickValues(yTickValues).tickFormat(d3.format(".2f")).tickSize(0).tickPadding(4.4));
    ax.select(".domain").remove();
    ax.selectAll("text").attr("font-size", 14.4).attr("font-family", "DejaVu Sans").attr("fill", "#262626");
    g.append("text").attr("transform", `translate(${24.5 - colLeft[0]},${ph/2}) rotate(-90)`)
      .attr("text-anchor", "middle").attr("font-size", 18).text(metricLabels[p.row]);
  }
  if (p.row === 1) {
    const ax = g.append("g").attr("transform", `translate(0,${ph})`)
      .call(d3.axisBottom(x).tickValues(xTickValues).tickFormat(d3.format("d")).tickSize(0).tickPadding(5));
    ax.select(".domain").remove();
    ax.selectAll("text").attr("font-size", 14.4).attr("font-family", "DejaVu Sans").attr("fill", "#262626");
    g.append("text").attr("x", pw/2).attr("y", 430 - rowTop[1])
      .attr("text-anchor", "middle").attr("font-size", 18).text(xLabel);
  }
  if (p.row === 0) {
    g.append("text").attr("x", pw/2).attr("y", -3.3)
      .attr("text-anchor", "middle").attr("font-size", 17).text(splitTitles[p.col % 2]);
  }
});

// group titles
groupTitles.forEach((t, i) => {
  const cx = (colLeft[2*i] + colLeft[2*i+1] + pw) / 2 + 2.5;
  svg.append("text").attr("x", cx).attr("y", 104.5).attr("text-anchor", "middle")
    .attr("font-size", 22).text(t);
});

// legend
const legendColX = [125, 340, 555, 770, 985];
const legendRowY = [16.7, 48.3];
fValues.forEach((f, fi) => {
  modelNames.forEach((m, mi) => {
    const lx = legendColX[fi], ly = legendRowY[mi];
    svg.append("line").attr("x1", lx).attr("x2", lx + 42).attr("y1", ly).attr("y2", ly)
      .attr("stroke", palette[fi]).attr("stroke-opacity", lineOpacity)
      .attr("stroke-width", 2.7).attr("stroke-dasharray", mi === 0 ? "2.7,4.4" : null);
    svg.append("text").attr("x", lx + 59).attr("y", ly + 7.5)
      .attr("font-size", 21).text(`${m}, F=${f}`);
  });
});
</script>
</body></html>
